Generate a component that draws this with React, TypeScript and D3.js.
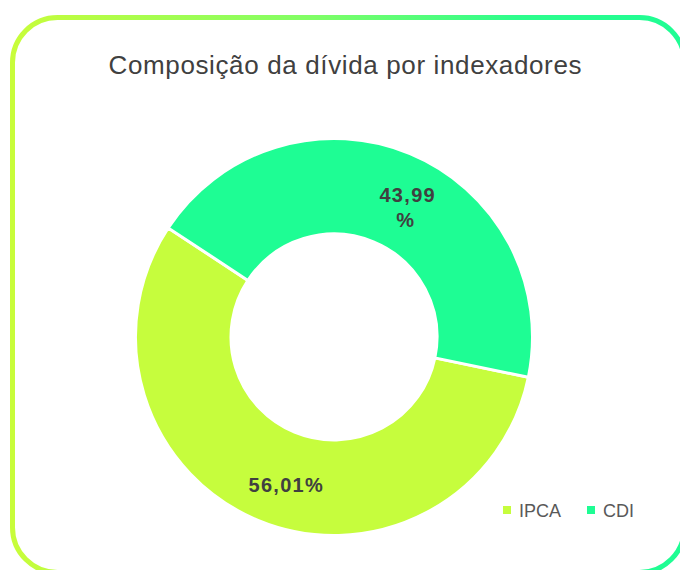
import React from "react";
import * as d3 from "d3";

const categories = ["IPCA", "CDI"];
const values = [56.01, 43.99];
const colors = ["#c6fd3d", "#1efd94"];
const title = "Composição da dívida por indexadores";

const W = 680;
const H = 570;

export default function App() {
  const cx = 334;
  const cy = 337;
  const outerR = 198.5;
  const innerR = 103;
  const start = (101.7 * Math.PI) / 180;

  const pie = d3
    .pie<number>()
    .sort(null)
    .value((d) => d)
    .startAngle(start)
    .endAngle(start + 2 * Math.PI);
  const arcs = pie(values);
  const arc = d3.arc<d3.PieArcDatum<number>>().innerRadius(innerR).outerRadius(outerR);

  const fmt = (v: number) => v.toFixed(2).replace(".", ",") + "%";

  const legendX = d3.scalePoint<string>().domain(categories).range([503, 587]);

  return (
    <svg
      width={W}
      height={H}
      style={{ position: "fixed", left: 0, top: 0, background: "#fff" }}
      fontFamily="'Liberation Sans', Arial, sans-serif"
    >
      <defs>
        <linearGradient id="border" x1="0" y1="0" x2="1" y2="0">
          <stop offset="0" stopColor="#c8fd3a" />
          <stop offset="0.45" stopColor="#7ffe66" />
          <stop offset="0.75" stopColor="#2dfd8c" />
          <stop offset="1" stopColor="#1efd94" />
        </linearGradient>
      </defs>
      <rect x={12.5} y={17.5} width={672} height={555} rx={45} ry={45} fill="#fff" stroke="url(#border)" strokeWidth={5} />
      <text
        x={345}
        y={74}
        textAnchor="middle"
        fontSize={26}
        fill="#404040"
        textLength={473}
        lengthAdjust="spacing"
      >
        {title}
      </text>
      <g transform={`translate(${cx},${cy})`}>
        {arcs.map((a, i) => (
          <path key={categories[i]} d={arc(a) || ""} fill={colors[i]} stroke="#fff" strokeWidth={3} />
        ))}
        {arcs.map((a, i) => {
          const [x, y] = arc.centroid(a);
          const ly = y + 9;
          const txt = fmt(values[i]);
          if (categories[i] === "CDI") {
            const lx = x + 16;
            const num = txt.slice(0, -1);
            return (
              <text key={"l" + i} textAnchor="middle" fontSize={20} fontWeight="bold" fill="#404040" letterSpacing={1.3}>
                <tspan x={lx} y={ly - 5}>{num}</tspan>
                <tspan x={lx - 2} y={ly + 20}>%</tspan>
              </text>
            );
          }
          const lx = x + 10;
          return (
            <text key={"l" + i} x={lx} y={ly + 7} textAnchor="middle" fontSize={20} fontWeight="bold" fill="#404040" letterSpacing={1.3}>
              {txt}
            </text>
          );
        })}
      </g>
      <g>
        {categories.map((c, i) => (
          <g key={c} transform={`translate(${legendX(c)},510)`}>
            <rect x={0} y={-4} width={8} height={8} fill={colors[i]} />
            <text x={16} y={6.5} fontSize={18} fill="#595959">
              {c}
            </text>
          </g>
        ))}
      </g>
    </svg>
  );
}
